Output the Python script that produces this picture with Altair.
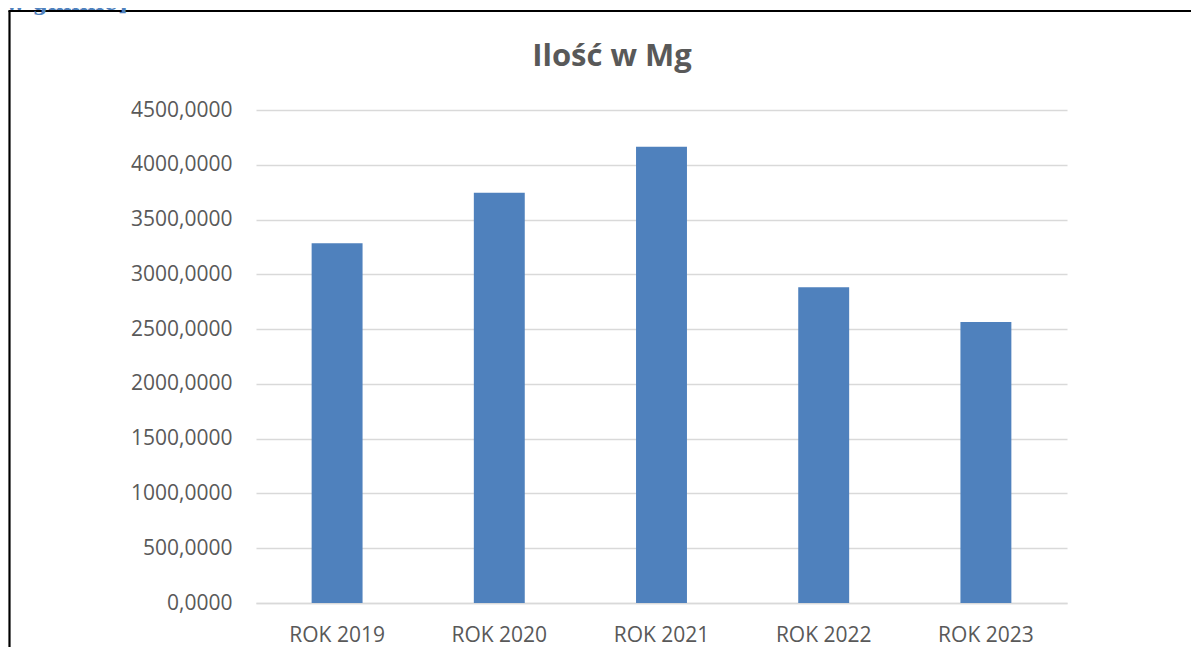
import altair as alt
import pandas as pd

categories = ["ROK 2019", "ROK 2020", "ROK 2021", "ROK 2022", "ROK 2023"]
values = [3283, 3745, 4165, 2881, 2565]
y_ticks = [0, 500, 1000, 1500, 2000, 2500, 3000, 3500, 4000, 4500]
title_text = "Ilość w Mg"
fragment_text = "w gminie]"

df = pd.DataFrame({"kategoria": categories, "ilosc": values})

W, H = 811, 493
PAD_L, PAD_T, PAD_R, PAD_B = 248, 102, 124, 44
FONT = "Open Sans"
GREY = "#595959"

base = alt.Chart(df)

bars = base.mark_bar(color="#4F81BD").encode(
    x=alt.X(
        "kategoria:N",
        sort=categories,
        title=None,
        scale=alt.Scale(paddingInner=0.686, paddingOuter=0.343),
        axis=alt.Axis(
            labelAngle=0,
            labelFont=FONT,
            labelFontSize=21,
            labelColor=GREY,
            labelPadding=21,
            ticks=False,
            domainColor="#D9D9D9",
            domainWidth=1.5,
            grid=False,
        ),
    ),
    y=alt.Y(
        "ilosc:Q",
        title=None,
        scale=alt.Scale(domain=[0, 4500], nice=False),
        axis=alt.Axis(
            values=y_ticks,
            labelExpr="replace(format(datum.value, '.4f'), '.', ',')",
            labelFont=FONT,
            labelFontSize=21,
            labelColor=GREY,
            labelPadding=24,
            ticks=False,
            domain=False,
            grid=True,
            gridColor="#D9D9D9",
            gridWidth=1.5,
        ),
    ),
)

title = alt.Chart(pd.DataFrame({"t": [title_text]})).mark_text(
    font=FONT, fontSize=31, fontWeight="bold", color=GREY, align="center", baseline="alphabetic"
).encode(text="t:N", x=alt.value(356), y=alt.value(66 - 8 - PAD_T))

frame_left = alt.Chart(pd.DataFrame({"a": [1]})).mark_rule(
    color="black", strokeWidth=2.2
).encode(
    x=alt.value(1.5 - PAD_L),
    y=alt.value(3 - PAD_T),
    y2=alt.value(H + PAD_B + 5),
)

frame_top = alt.Chart(pd.DataFrame({"a": [1]})).mark_rule(
    color="black", strokeWidth=2.2
).encode(
    x=alt.value(0.4 - PAD_L),
    x2=alt.value(W + PAD_R + 5),
    y=alt.value(3 - PAD_T),
)

fragment = alt.Chart(pd.DataFrame({"t": [fragment_text]})).mark_text(
    font="DejaVu Serif", fontSize=22, fontWeight="bold", color="#4F81BD", align="left", baseline="alphabetic"
).encode(text="t:N", x=alt.value(-2 - PAD_L), y=alt.value(2 - PAD_T))

chart = alt.layer(bars, title, frame_left, frame_top, fragment).properties(
    width=W,
    height=H,
    padding={"left": PAD_L, "top": PAD_T, "right": PAD_R, "bottom": PAD_B},
    autosize=alt.AutoSizeParams(type="none"),
    background="white",
).configure_view(stroke=None)

chart.save("out.html", embed_options={"renderer": "svg", "actions": False})
